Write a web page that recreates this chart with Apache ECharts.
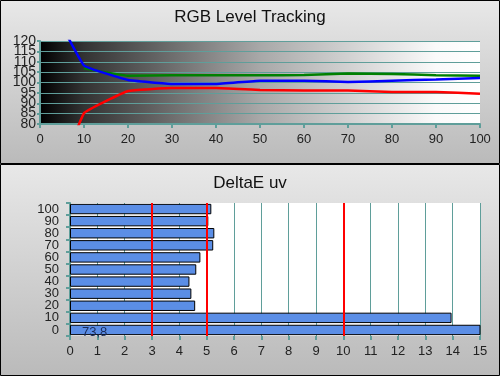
<!DOCTYPE html>
<html>
<head>
<meta charset="utf-8">
<script src="https://cdn.jsdelivr.net/npm/echarts@6/dist/echarts.min.js"></script>
<style>
    html, body { margin: 0; padding: 0; }
    #main { width: 500px; height: 376px; }
</style>
</head>
<body>
<div id="main"></div>
<script>
// 数据
var levels = [0, 10, 20, 30, 40, 50, 60, 70, 80, 90, 100];
var redValues = [30, 85.2, 95.9, 97.3, 97.3, 96.4, 96.1, 96.1, 95.4, 95.4, 94.6];
var greenValues = [null, 106.8, 103.3, 103.5, 103.5, 103.5, 103.6, 104.3, 104.1, 103.5, 103.3];
var blueValues = [148, 108.2, 101.2, 99.3, 99.3, 100.9, 100.9, 100.2, 100.9, 101.5, 102.2];
var levelTicks = ['80', '85', '90', '95', '100', '105', '110', '115', '120'];

var deltaCategories = ['0', '10', '20', '30', '40', '50', '60', '70', '80', '90', '100'];
var deltaValues = [73.8, 13.96, 4.58, 4.44, 4.37, 4.62, 4.77, 5.24, 5.28, 5.06, 5.17];
var limitLines = [3, 5, 10];

(function() {
    var teal = '#5f9e9a';
    var font = 'Liberation Sans, Arial, sans-serif';
    var myChart = echarts.init(document.getElementById('main'));

    function pairs(vals) {
        return levels.map(function(l, i) { return [l, vals[i]]; });
    }
    function lineSeries(vals, color) {
        return {
            type: 'line',
            xAxisIndex: 0,
            yAxisIndex: 0,
            data: pairs(vals),
            smooth: 0.08,
            showSymbol: false,
            lineStyle: { color: color, width: 2.5 },
            itemStyle: { color: color },
            silent: true
        };
    }

    var panelFill = {
        type: 'linear', x: 0, y: 0, x2: 0, y2: 1,
        colorStops: [{ offset: 0, color: '#e8e8e8' }, { offset: 1, color: '#bababa' }]
    };
    function label(extra) {
        return Object.assign({ color: '#222', fontSize: 13, fontFamily: font, hideOverlap: false }, extra);
    }

    var barData = deltaValues.map(function(v, i) {
        var item = { value: v };
        if (i === 0) {
            item.label = {
                show: true,
                position: 'insideLeft',
                offset: [7, 2],
                color: '#1c2d5a',
                fontSize: 13,
                fontFamily: font,
                formatter: function(p) { return String(p.value).replace('.', ','); }
            };
        }
        return item;
    });

    var option = {
        animation: false,
        graphic: [
            { type: 'rect', z: -10, shape: { x: 0.5, y: 0.5, width: 499, height: 163 },
              style: { fill: panelFill, stroke: '#000', lineWidth: 1 } },
            { type: 'rect', z: -10, shape: { x: 0.5, y: 164.5, width: 499, height: 211 },
              style: { fill: panelFill, stroke: '#000', lineWidth: 1 } }
        ],
        title: [
            { text: 'RGB Level Tracking', left: 'center', top: 4,
              textStyle: { fontSize: 17, fontWeight: 'normal', color: '#111', fontFamily: font } },
            { text: 'DeltaE uv', left: 'center', top: 170,
              textStyle: { fontSize: 17, fontWeight: 'normal', color: '#111', fontFamily: font } }
        ],
        grid: [
            { left: 40, top: 41, width: 440, height: 83, show: true, borderWidth: 0,
              outerBoundsMode: 'none', containLabel: false,
              backgroundColor: {
                  type: 'linear', x: 0, y: 0, x2: 1, y2: 0,
                  colorStops: [
                      { offset: 0, color: '#000' },
                      { offset: 0.1, color: '#333' },
                      { offset: 0.5, color: '#a8a8a8' },
                      { offset: 0.9, color: '#fafafa' },
                      { offset: 1, color: '#fff' }
                  ]
              } },
            { left: 70, top: 203, width: 410, height: 133, show: true, borderWidth: 0,
              outerBoundsMode: 'none', containLabel: false,
              backgroundColor: '#fff' }
        ],
        xAxis: [
            {
                gridIndex: 0, type: 'value', min: 0, max: 100, interval: 10,
                axisLine: { lineStyle: { color: teal, width: 2 } },
                axisTick: { show: true, length: 4, lineStyle: { color: teal, width: 2 } },
                axisLabel: label({ margin: 9 }),
                splitLine: { show: false }
            },
            {
                gridIndex: 1, type: 'value', min: 0, max: 15, interval: 1,
                axisLine: { lineStyle: { color: teal, width: 2 } },
                axisTick: { show: true, length: 4, lineStyle: { color: teal, width: 2 } },
                axisLabel: label({ margin: 9 }),
                splitLine: { show: true, lineStyle: { color: teal, width: 1 } }
            }
        ],
        yAxis: [
            {
                // 数值轴，只画网格线
                gridIndex: 0, type: 'value', min: 80, max: 120, interval: 5,
                axisLine: { show: true, lineStyle: { color: teal, width: 2 } },
                axisTick: { show: true, length: 3, lineStyle: { color: teal, width: 2 } },
                axisLabel: { show: false },
                splitLine: { show: true, lineStyle: { color: teal, width: 1 } }
            },
            {
                gridIndex: 1, type: 'category', data: deltaCategories,
                axisLine: { show: true, lineStyle: { color: teal, width: 2 } },
                axisTick: { show: true, length: 4, lineStyle: { color: teal, width: 2 } },
                axisLabel: label({ margin: 11, interval: 0 }),
                splitLine: { show: false }
            },
            {
                // 刻度文字，全部显示
                gridIndex: 0, type: 'category', data: levelTicks, boundaryGap: false,
                position: 'left', offset: 0,
                axisLine: { show: false },
                axisTick: { show: false },
                axisLabel: label({ margin: 4, interval: 0, fontSize: 14 }),
                splitLine: { show: false }
            }
        ],
        series: [
            lineSeries(redValues, '#ff0000'),
            lineSeries(greenValues, '#008000'),
            lineSeries(blueValues, '#0000ff'),
            {
                type: 'bar',
                xAxisIndex: 1,
                yAxisIndex: 1,
                data: barData,
                barCategoryGap: '14%',
                itemStyle: { color: '#5b8ee6', borderColor: '#000', borderWidth: 1 },
                silent: true,
                markLine: {
                    silent: true,
                    symbol: 'none',
                    label: { show: false },
                    lineStyle: { color: '#ff0000', width: 2, type: 'solid' },
                    data: limitLines.map(function(v) { return { xAxis: v }; })
                }
            }
        ]
    };
    myChart.setOption(option);
})();
</script>
</body>
</html>
